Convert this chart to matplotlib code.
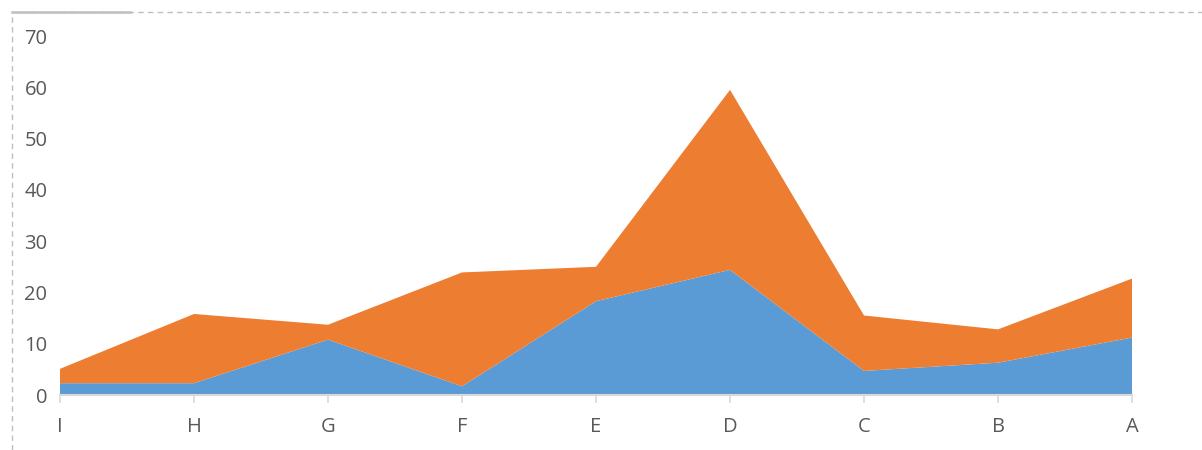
import numpy as np
import matplotlib
matplotlib.use('Agg')
import matplotlib.pyplot as plt
from matplotlib.patches import Rectangle
from matplotlib.lines import Line2D

plt.rcParams['font.family'] = ['Open Sans', 'DejaVu Sans']

categories = ['I', 'H', 'G', 'F', 'E', 'D', 'C', 'B', 'A']
series_blue = [2.3, 2.3, 10.8, 1.7, 18.3, 24.4, 4.7, 6.3, 11.2]
series_orange = [2.8, 13.5, 2.9, 22.2, 6.7, 35.1, 10.8, 6.5, 11.5]
y_ticks = [0, 10, 20, 30, 40, 50, 60, 70]

blue = '#5B9BD5'
orange = '#ED7D31'
label_color = '#595959'
axis_color = '#D9D9D9'

fig = plt.figure(figsize=(12.02, 4.5), dpi=100)
ax = fig.add_axes([0.0499, 0.1222, 0.8919, 0.7978])

x = np.arange(len(categories))
ax.stackplot(x, series_blue, series_orange, colors=[blue, orange],
             linewidth=0, edgecolor='none')

ax.set_xlim(0, len(categories) - 1)
ax.set_ylim(0, 70)
ax.set_xticks(x)
ax.set_xticklabels(categories)
ax.set_yticks(y_ticks)

for side in ['top', 'right', 'left']:
    ax.spines[side].set_visible(False)
ax.spines['bottom'].set_color(axis_color)
ax.spines['bottom'].set_linewidth(1.5)
ax.spines['bottom'].set_zorder(3)

ax.tick_params(axis='x', colors=axis_color, length=6, width=1.2,
               labelcolor=label_color, labelsize=14.5, pad=10)
ax.tick_params(axis='y', length=0, labelcolor=label_color,
               labelsize=14.5, pad=9)

# chart frame (dashed border partly outside the picture)
fig.patches.append(Rectangle((12 / 1202, -0.1), 1.2, (450 - 12) / 450 + 0.1,
                             transform=fig.transFigure, fill=False,
                             edgecolor='#BFBFBF', linestyle=(0, (4, 3)),
                             linewidth=1.0))
fig.lines.append(Line2D([12 / 1202, 130 / 1202], [(450 - 12) / 450] * 2,
                        transform=fig.transFigure, color='#BFBFBF',
                        linewidth=1.8))

plt.savefig('out.png', dpi=100)
